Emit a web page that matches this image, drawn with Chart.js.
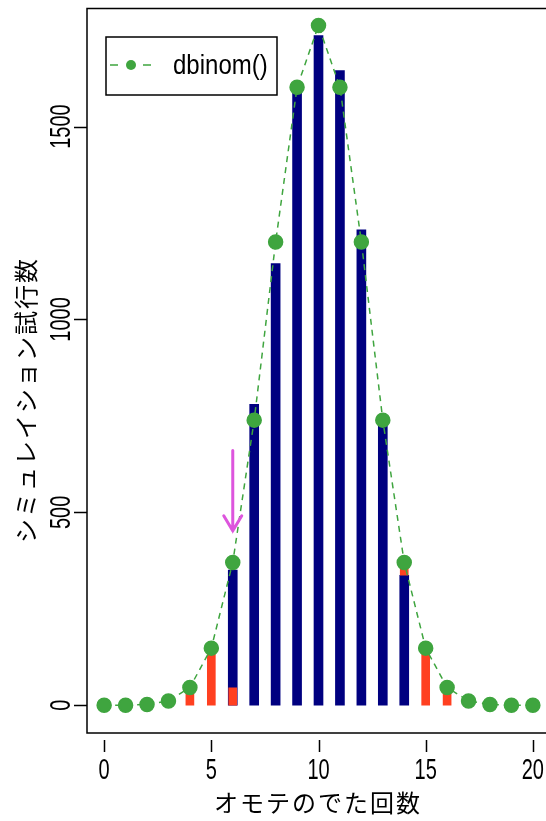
<!DOCTYPE html>
<html>
<head>
<meta charset="utf-8">
<script src="https://cdn.jsdelivr.net/npm/chart.js@4.4.1/dist/chart.umd.min.js"></script>
<style>
  html, body { margin: 0; padding: 0; background: #fff; overflow: hidden; }
  #wrap { width: 560px; height: 821px; position: relative; }
</style>
</head>
<body>
<div id="wrap"><canvas id="c"></canvas></div>
<script>
// number of heads (x)
const heads = [0, 1, 2, 3, 4, 5, 6, 7, 8, 9, 10, 11, 12, 13, 14, 15, 16, 17, 18, 19, 20];
// expected counts from dbinom() (green points)
const expected = [0, 0, 2, 11, 46, 148, 370, 739, 1201, 1602, 1762, 1602, 1201, 739, 370, 148, 46, 11, 2, 0, 0];
// simulated counts (navy bars)
const simulated = [null, null, null, null, null, null, 350, 780, 1145, 1610, 1736, 1645, 1232, 743, 337, null, null, null, null, null, null];
// highlighted part (red bars)
const highlighted = [null, null, null, null, 40, 140, 45, null, null, null, null, null, null, null, [337, 357], 140, 44, null, null, null, null];
// tick labels
const xTicks = [0, 5, 10, 15, 20];
const yTicks = [0, 500, 1000, 1500];
// arrow [x, yFrom, yTo]
const arrow = [6, 660, 452];

const GREEN = '#3fa53f';
const NAVY = '#000080';
const RED = '#ff4020';

function label(ctx, s, x, y, size, sy, rot) {
    ctx.save();
    ctx.translate(x, y);
    if (rot) ctx.rotate(rot);
    ctx.scale(1, sy);
    ctx.font = size + 'px "Liberation Sans", Arial, sans-serif';
    ctx.fillStyle = '#000';
    ctx.textAlign = 'center';
    ctx.textBaseline = 'middle';
    ctx.fillText(s, 0, 0);
    ctx.restore();
}

const decorations = {
    id: 'decorations',
    afterDatasetsDraw(chart) {
        const ctx = chart.ctx;
        const xs = chart.scales.x, ys = chart.scales.y;
        const a = chart.chartArea;

        // arrow
        const ax = xs.getPixelForValue(arrow[0]);
        const y1 = ys.getPixelForValue(arrow[1]);
        const y2 = ys.getPixelForValue(arrow[2]);
        ctx.save();
        ctx.strokeStyle = '#dd55dd';
        ctx.lineWidth = 3;
        ctx.lineCap = 'round';
        ctx.beginPath();
        ctx.moveTo(ax, y1);
        ctx.lineTo(ax, y2);
        ctx.moveTo(ax - 9, y2 - 15);
        ctx.lineTo(ax, y2);
        ctx.lineTo(ax + 9, y2 - 15);
        ctx.stroke();
        ctx.restore();
    },
    afterDraw(chart) {
        const ctx = chart.ctx;
        const xs = chart.scales.x, ys = chart.scales.y;
        const a = chart.chartArea;
        ctx.save();
        // box
        ctx.strokeStyle = '#000';
        ctx.lineWidth = 1.5;
        ctx.strokeRect(a.left, a.top, a.right - a.left, a.bottom - a.top);

        // x axis ticks and labels
        ctx.beginPath();
        xTicks.forEach(v => {
            const px = Math.round(xs.getPixelForValue(v)) + 0.5;
            ctx.moveTo(px, a.bottom + 7);
            ctx.lineTo(px, a.bottom + 19);
        });
        ctx.stroke();
        xTicks.forEach(v => label(ctx, String(v), xs.getPixelForValue(v), 771, 20, 1.45, 0));

        // y axis ticks and labels
        ctx.beginPath();
        yTicks.forEach(v => {
            const py = Math.round(ys.getPixelForValue(v)) + 0.5;
            ctx.moveTo(a.left - 13, py);
            ctx.lineTo(a.left, py);
        });
        ctx.stroke();
        yTicks.forEach(v => label(ctx, String(v), 62, ys.getPixelForValue(v), 20, 1.45, -Math.PI / 2));

        // axis titles
        ctx.fillStyle = '#000';
        ctx.font = '24px "Noto Sans CJK JP", sans-serif';
        ctx.textAlign = 'center';
        ctx.textBaseline = 'middle';
        ctx.letterSpacing = '2px';
        ctx.fillText('オモテのでた回数', 318, 803);
        ctx.save();
        ctx.translate(26, 400);
        ctx.rotate(-Math.PI / 2);
        ctx.fillText('シミュレイション試行数', 0, 0);
        ctx.restore();
        ctx.letterSpacing = '0px';

        // legend
        ctx.fillStyle = '#fff';
        ctx.fillRect(106, 37, 171, 58);
        ctx.strokeStyle = '#000';
        ctx.lineWidth = 1.5;
        ctx.strokeRect(106, 37, 171, 58);
        ctx.strokeStyle = GREEN;
        ctx.lineWidth = 1.5;
        ctx.beginPath();
        ctx.moveTo(110, 65); ctx.lineTo(118, 65);
        ctx.moveTo(143, 65); ctx.lineTo(151, 65);
        ctx.stroke();
        ctx.fillStyle = GREEN;
        ctx.beginPath();
        ctx.arc(131, 65, 5, 0, Math.PI * 2);
        ctx.fill();
        ctx.save();
        ctx.translate(173, 66);
        ctx.scale(1, 1.15);
        ctx.font = '24px "Liberation Sans", Arial, sans-serif';
        ctx.fillStyle = '#000';
        ctx.textAlign = 'left';
        ctx.textBaseline = 'middle';
        ctx.fillText('dbinom()', 0, 0);
        ctx.restore();
        ctx.restore();
    }
};

new Chart(document.getElementById('c'), {
    type: 'bar',
    data: {
        datasets: [
            {
                type: 'line',
                label: 'dbinom()',
                data: heads.map((h, i) => ({ x: h, y: expected[i] })),
                borderColor: GREEN,
                borderWidth: 1.5,
                borderDash: [6, 5],
                pointBackgroundColor: GREEN,
                pointBorderColor: GREEN,
                pointRadius: 7,
                tension: 0,
                order: 0
            },
            {
                label: 'highlight',
                data: heads.map((h, i) => ({ x: h, y: highlighted[i] })),
                backgroundColor: RED,
                barThickness: 8,
                grouped: false,
                order: 1
            },
            {
                label: 'simulation',
                data: heads.map((h, i) => ({ x: h, y: simulated[i] })),
                backgroundColor: NAVY,
                barThickness: 9,
                grouped: false,
                order: 2
            }
        ]
    },
    options: {
        responsive: true,
        maintainAspectRatio: false,
        animation: false,
        layout: { padding: { left: 87, right: 10, top: 8, bottom: 88 } },
        plugins: {
            legend: { display: false },
            tooltip: { enabled: false }
        },
        scales: {
            x: { type: 'linear', min: -0.8, max: 20.8, display: false, offset: false },
            y: { type: 'linear', min: -72, max: 1806, display: false }
        }
    },
    plugins: [decorations]
});
</script>
</body>
</html>
